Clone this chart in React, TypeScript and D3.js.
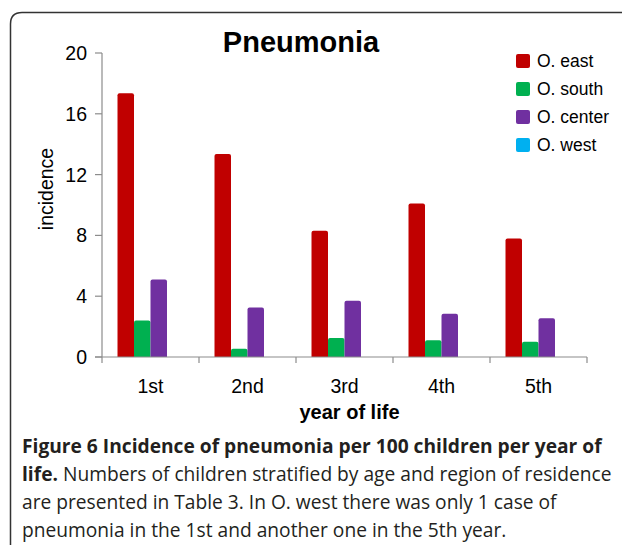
import React from "react";
import * as d3 from "d3";

const categories = ["1st", "2nd", "3rd", "4th", "5th"];
const seriesNames = ["O. east", "O. south", "O. center", "O. west"];
const eastValues = [17.35, 13.35, 8.3, 10.1, 7.8];
const southValues = [2.4, 0.55, 1.25, 1.1, 1.0];
const centerValues = [5.1, 3.25, 3.7, 2.85, 2.55];
const westValues = [0, 0, 0, 0, 0];
const yTicks = [0, 4, 8, 12, 16, 20];
const colors = ["#C00000", "#00B050", "#7030A0", "#00B0F0"];

const W = 622;
const H = 545;
const plot = { left: 102, right: 587, top: 53, bottom: 357 };

function topRoundedBar(x: number, y: number, w: number, h: number, r: number) {
  if (h <= 0) return "";
  const rr = Math.min(r, h, w / 2);
  return `M${x},${y + h}V${y + rr}Q${x},${y} ${x + rr},${y}H${x + w - rr}Q${x + w},${y} ${x + w},${y + rr}V${y + h}Z`;
}

export default function App() {
  const allSeries = [eastValues, southValues, centerValues, westValues];
  const x = d3.scaleBand<string>().domain(categories).range([plot.left, plot.right]).padding(0);
  const inner = d3
    .scaleBand<string>()
    .domain(seriesNames)
    .range([0, x.bandwidth()])
    .paddingOuter(0.94)
    .paddingInner(0);
  const y = d3.scaleLinear().domain([0, 20]).range([plot.bottom, plot.top]);
  const axisColor = "#8c8c8c";
  const font = "'Liberation Sans', Arial, Helvetica, sans-serif";
  const capFont = "'Open Sans', 'Noto Sans', sans-serif";
  const boundaries = [...categories.map((c) => x(c) as number), plot.right];

  return (
    <svg
      width={W}
      height={H}
      style={{ position: "absolute", left: 0, top: 0, background: "#fff" }}
      fontFamily={font}
    >
      <rect x={0} y={0} width={W} height={H} fill="#fff" />
      {/* frame */}
      <path
        d={`M10.5,${H + 5}V24Q10.5,12.5 22,12.5H${W + 5}`}
        fill="none"
        stroke="#333"
        strokeWidth={1.5}
      />
      {/* title */}
      <text x={301} y={52} textAnchor="middle" fontSize={29} fontWeight="bold" fill="#000">
        Pneumonia
      </text>
      {/* bars */}
      {allSeries.map((vals, si) =>
        categories.map((c, ci) => {
          const bx = (x(c) as number) + (inner(seriesNames[si]) as number);
          const by = y(vals[ci]);
          const bh = plot.bottom - by;
          return (
            <path
              key={`${si}-${ci}`}
              d={topRoundedBar(bx, by, inner.bandwidth(), bh, 2)}
              fill={colors[si]}
            />
          );
        })
      )}
      {/* y axis */}
      <line x1={plot.left} x2={plot.left} y1={plot.top} y2={plot.bottom} stroke={axisColor} strokeWidth={1.2} />
      {yTicks.map((t) => (
        <g key={t}>
          <line x1={plot.left - 7} x2={plot.left} y1={y(t)} y2={y(t)} stroke={axisColor} strokeWidth={1.2} />
          <text x={plot.left - 15} y={y(t)} dy="0.36em" textAnchor="end" fontSize={19.5} fill="#000">
            {t}
          </text>
        </g>
      ))}
      {/* x axis */}
      <line x1={plot.left - 7} x2={plot.right} y1={plot.bottom} y2={plot.bottom} stroke={axisColor} strokeWidth={1.2} />
      {boundaries.map((b, i) => (
        <line key={i} x1={b} x2={b} y1={plot.bottom} y2={plot.bottom + 6} stroke={axisColor} strokeWidth={1.2} />
      ))}
      {categories.map((c) => (
        <text
          key={c}
          x={(x(c) as number) + x.bandwidth() / 2}
          y={393}
          textAnchor="middle"
          fontSize={19.5}
          fill="#000"
        >
          {c}
        </text>
      ))}
      <text x={(plot.left + plot.right) / 2 + 5} y={419} textAnchor="middle" fontSize={20} fontWeight="bold" fill="#000">
        year of life
      </text>
      <text
        transform={`translate(53,189) rotate(-90)`}
        textAnchor="middle"
        fontSize={19.5}
        fill="#000"
      >
        incidence
      </text>
      {/* legend */}
      {seriesNames.map((s, i) => (
        <g key={s} transform={`translate(516,${61 + i * 28})`}>
          <rect x={0} y={-7} width={14} height={14} rx={2} fill={colors[i]} />
          <text x={21} y={0} dy="0.36em" fontSize={17.5} fill="#000">
            {s}
          </text>
        </g>
      ))}
      {/* caption */}
      <g fontFamily={capFont} fontSize={19.2} fill="#231f20">
        <text x={22} y={453}>
          <tspan fontWeight="bold">Figure 6 Incidence of pneumonia per 100 children per year of</tspan>
        </text>
        <text x={22} y={481}>
          <tspan fontWeight="bold">life.</tspan>
          <tspan> Numbers of children stratified by age and region of residence</tspan>
        </text>
        <text x={22} y={509}>
          are presented in Table 3. In O. west there was only 1 case of
        </text>
        <text x={22} y={537}>
          pneumonia in the 1st and another one in the 5th year.
        </text>
      </g>
    </svg>
  );
}
